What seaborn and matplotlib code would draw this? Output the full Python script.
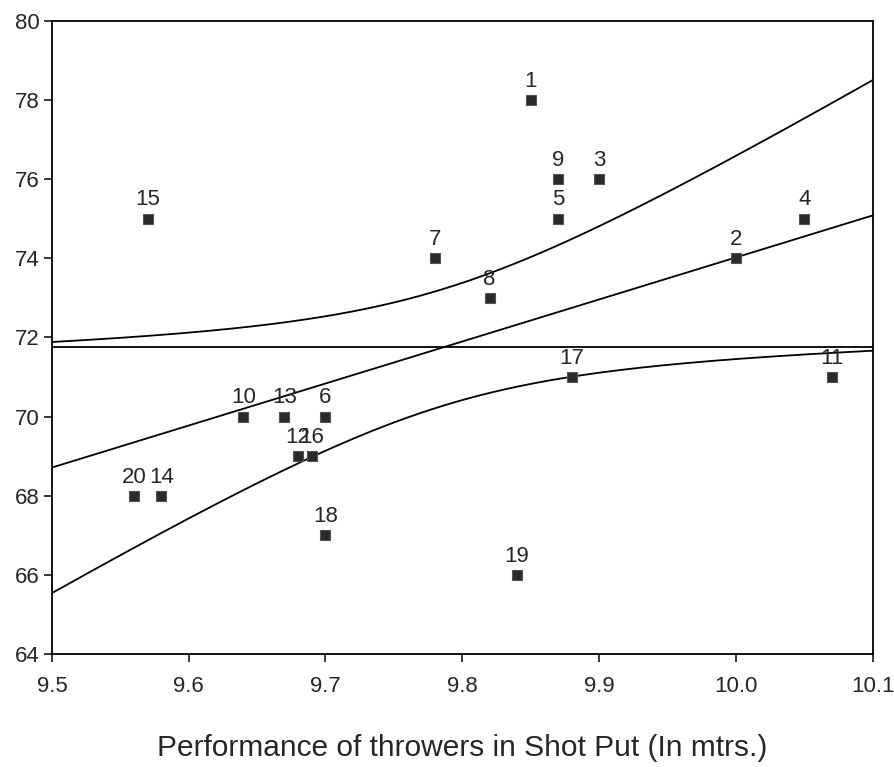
import numpy as np
import pandas as pd
import matplotlib
matplotlib.use('Agg')
import matplotlib.pyplot as plt
import seaborn as sns

thrower = list(range(1, 21))
shot_put = [9.85, 10.00, 9.90, 10.05, 9.87, 9.70, 9.78, 9.82, 9.87, 9.64,
            10.07, 9.68, 9.67, 9.58, 9.57, 9.69, 9.88, 9.70, 9.84, 9.56]
score = [78, 74, 76, 75, 75, 70, 74, 73, 76, 70,
         71, 69, 70, 68, 75, 69, 71, 67, 66, 68]

df = pd.DataFrame({'id': thrower, 'x': shot_put, 'y': score})

sns.set_style('white')
plt.rcParams['font.family'] = ['Liberation Sans', 'DejaVu Sans']

fig = plt.figure(figsize=(8.95, 7.67), dpi=100)
ax = fig.add_axes([0.058, 0.147, 0.917, 0.826])

# least squares fit and 95% band for the mean
x = df['x'].values
y = df['y'].values
n = len(x)
b, a = np.polyfit(x, y, 1)
resid = y - (a + b * x)
s = np.sqrt(np.sum(resid ** 2) / (n - 2))
t = 2.101
xs = np.linspace(9.5, 10.1, 200)
fit = a + b * xs
half = t * s * np.sqrt(1 / n + (xs - x.mean()) ** 2 / np.sum((x - x.mean()) ** 2))

ax.plot(xs, fit, color='black', lw=1.3)
ax.plot(xs, fit + half, color='black', lw=1.3)
ax.plot(xs, fit - half, color='black', lw=1.3)
ax.axhline(y.mean(), color='black', lw=1.3)

sns.scatterplot(data=df, x='x', y='y', marker='s', s=60, color='#2a2a2a',
                edgecolor='#555555', linewidth=0.8, ax=ax, zorder=5)

for _, r in df.iterrows():
    ax.annotate(str(int(r['id'])), (r['x'], r['y']), xytext=(0, 6),
                textcoords='offset points', ha='center', va='bottom', fontsize=16)

ax.set_xlim(9.5, 10.1)
ax.set_ylim(64, 80)
ax.set_xticks([9.5, 9.6, 9.7, 9.8, 9.9, 10.0, 10.1])
ax.set_xticklabels(['9.5', '9.6', '9.7', '9.8', '9.9', '10.0', '10.1'])
ax.set_yticks(range(64, 81, 2))
ax.tick_params(axis='both', direction='out', length=6, width=1.3, labelsize=16,
               bottom=True, left=True)
ax.tick_params(axis='x', pad=10)
ax.tick_params(axis='y', pad=3)
for sp in ax.spines.values():
    sp.set_color('black')
    sp.set_linewidth(1.3)
ax.set_xlabel('Performance of throwers in Shot Put (In mtrs.)', fontsize=21.5, labelpad=26)
ax.set_ylabel('')

fig.savefig('out.png', dpi=100)
